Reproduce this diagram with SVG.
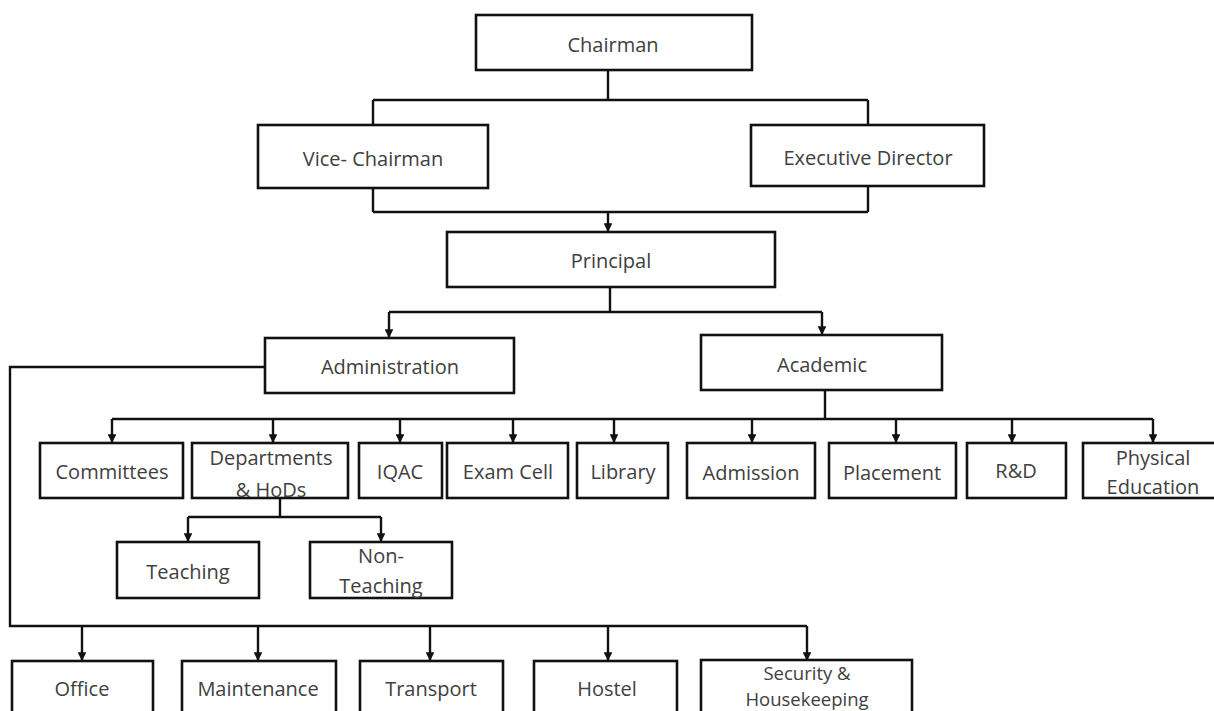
<svg xmlns="http://www.w3.org/2000/svg" width="1214" height="711" viewBox="0 0 1214 711">
<defs>
<style>
.box{fill:#fff;stroke:#111;stroke-width:2.6}
.t{font-family:"Open Sans","Noto Sans",sans-serif;font-size:20px;fill:#404040;text-anchor:middle;dominant-baseline:central}
.s{font-size:18.5px}
.c{fill:none;stroke:#111;stroke-width:2.4}
.a{fill:none;stroke:#111;stroke-width:2.4;marker-end:url(#ah)}
</style>
<marker id="ah" viewBox="0 0 10 10" refX="10" refY="5" markerWidth="3.6" markerHeight="3.6" markerUnits="strokeWidth" orient="auto">
<path d="M0,0 L10,5 L0,10 z" fill="#111"/>
</marker>
</defs>
<rect width="1214" height="711" fill="#fff"/>
<g id="connectors">
<path class="c" d="M608,70 V100 M373,100 H868 M373,100 V125 M868,100 V125"/>
<path class="c" d="M373,188 V212 M868,186 V212 M373,212 H868"/>
<path class="a" d="M608,212 V232"/>
<path class="c" d="M610,287 V312 M389,312 H822"/>
<path class="a" d="M389,312 V338"/>
<path class="a" d="M822,312 V335"/>
<path class="c" d="M825,390 V419 M112,419 H1153"/>
<path class="a" d="M112,419 V443"/>
<path class="a" d="M273,419 V443"/>
<path class="a" d="M400,419 V443"/>
<path class="a" d="M513,419 V443"/>
<path class="a" d="M614,419 V443"/>
<path class="a" d="M752,419 V443"/>
<path class="a" d="M896,419 V443"/>
<path class="a" d="M1012,419 V443"/>
<path class="a" d="M1153,419 V443"/>
<path class="c" d="M280,498 V517 M188,517 H381"/>
<path class="a" d="M188,517 V542"/>
<path class="a" d="M381,517 V542"/>
<path class="c" d="M265,367 H10 V626 H807"/>
<path class="a" d="M82,626 V661"/>
<path class="a" d="M258,626 V661"/>
<path class="a" d="M430,626 V661"/>
<path class="a" d="M608,626 V661"/>
<path class="a" d="M807,626 V661"/>
</g>
<g id="chairman"><rect class="box" x="476" y="15" width="276" height="55"/><text class="t" x="613" y="44">Chairman</text></g>
<g id="vice-chairman"><rect class="box" x="258" y="125" width="230" height="63"/><text class="t" x="373" y="158">Vice- Chairman</text></g>
<g id="executive-director"><rect class="box" x="751" y="125" width="233" height="61"/><text class="t" x="868" y="157">Executive Director</text></g>
<g id="principal"><rect class="box" x="447" y="232" width="328" height="55"/><text class="t" x="611" y="260">Principal</text></g>
<g id="administration"><rect class="box" x="265" y="338" width="249" height="55"/><text class="t" x="390" y="366">Administration</text></g>
<g id="academic"><rect class="box" x="701" y="335" width="241" height="55"/><text class="t" x="822" y="364">Academic</text></g>
<g id="committees"><rect class="box" x="40" y="443" width="143" height="55"/><text class="t" x="112" y="471">Committees</text></g>
<g id="departments"><rect class="box" x="192" y="443" width="156" height="55"/><text class="t" x="271" y="457">Departments</text><text class="t" x="271" y="489">&amp; HoDs</text></g>
<g id="iqac"><rect class="box" x="359" y="443" width="83" height="55"/><text class="t" x="400" y="471">IQAC</text></g>
<g id="exam-cell"><rect class="box" x="447" y="443" width="121" height="55"/><text class="t" x="508" y="471">Exam Cell</text></g>
<g id="library"><rect class="box" x="577" y="443" width="91" height="55"/><text class="t" x="623" y="471">Library</text></g>
<g id="admission"><rect class="box" x="687" y="443" width="128" height="55"/><text class="t" x="751" y="472">Admission</text></g>
<g id="placement"><rect class="box" x="829" y="443" width="127" height="55"/><text class="t" x="892" y="472">Placement</text></g>
<g id="rnd"><rect class="box" x="967" y="443" width="99" height="55"/><text class="t" x="1016" y="470">R&amp;D</text></g>
<g id="physical-education"><rect class="box" x="1083" y="443" width="140" height="55"/><text class="t" x="1153" y="457">Physical</text><text class="t" x="1153" y="486">Education</text></g>
<g id="teaching"><rect class="box" x="117" y="542" width="142" height="56"/><text class="t" x="188" y="571">Teaching</text></g>
<g id="non-teaching"><rect class="box" x="310" y="542" width="142" height="56"/><text class="t" x="381" y="555">Non-</text><text class="t" x="381" y="585">Teaching</text></g>
<g id="office"><rect class="box" x="12" y="661" width="141" height="60"/><text class="t" x="82" y="688">Office</text></g>
<g id="maintenance"><rect class="box" x="182" y="661" width="154" height="60"/><text class="t" x="258" y="688">Maintenance</text></g>
<g id="transport"><rect class="box" x="360" y="661" width="143" height="60"/><text class="t" x="431" y="688">Transport</text></g>
<g id="hostel"><rect class="box" x="534" y="661" width="143" height="60"/><text class="t" x="607" y="688">Hostel</text></g>
<g id="security"><rect class="box" x="701" y="660" width="211" height="61"/><text class="t s" x="807" y="672">Security &amp;</text><text class="t s" x="807" y="698">Housekeeping</text></g>
</svg>
